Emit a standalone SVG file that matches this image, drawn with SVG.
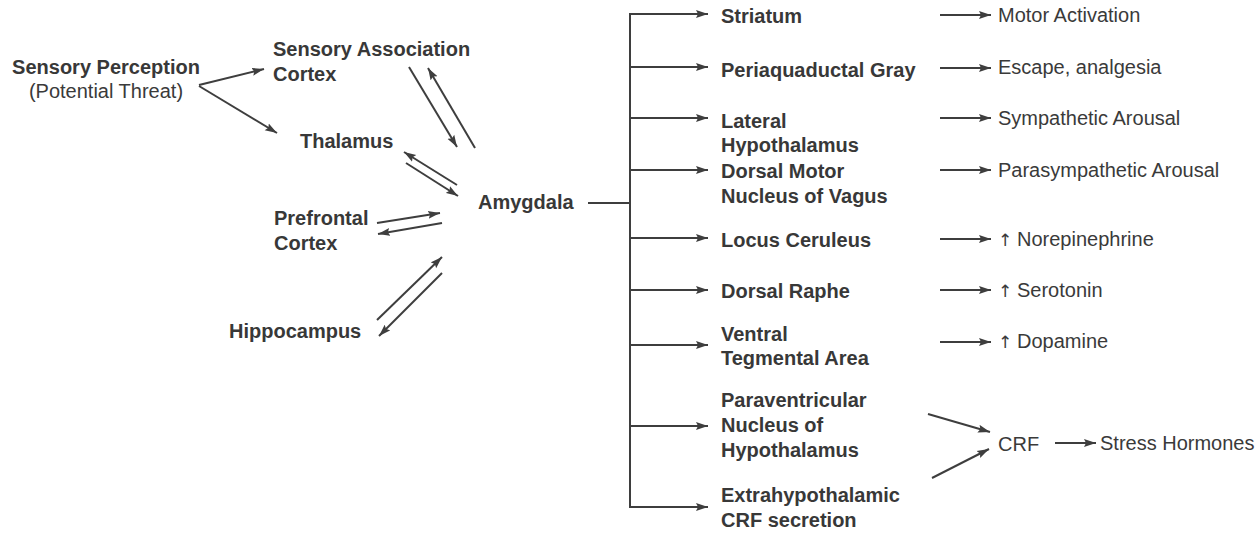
<svg xmlns="http://www.w3.org/2000/svg" width="1258" height="534" viewBox="0 0 1258 534">
  <style>
    .b { font-family: "Liberation Sans", Arial, sans-serif; font-weight: bold; font-size: 20px; fill: #383838; }
    .r { font-family: "Liberation Sans", Arial, sans-serif; font-size: 20px; fill: #3a3a3a; }
    .up { font-family: "DejaVu Sans", sans-serif; font-size: 17px; fill: #3a3a3a; }
    .c { text-anchor: middle; }
    .ln { stroke: #3e3e3e; stroke-width: 2; fill: none; }
    .ar { stroke: #3e3e3e; stroke-width: 2; fill: none; marker-end: url(#head); }
  </style>
  <defs>
    <marker id="head" markerUnits="userSpaceOnUse" markerWidth="13" markerHeight="9" refX="12" refY="4.5" orient="auto">
      <path d="M0,0.5 L12,4.5 L0,8.5 L2,4.5 z" fill="#3e3e3e"/>
    </marker>
  </defs>
  <rect width="1258" height="534" fill="#ffffff"/>

  <!-- left-hand inputs -->
  <g id="sensory-perception">
    <text class="b c" x="106" y="74">Sensory Perception</text>
    <text class="r c" x="106" y="98">(Potential Threat)</text>
  </g>
  <g id="sensory-association-cortex">
    <text class="b" x="273" y="56">Sensory Association</text>
    <text class="b" x="273" y="81">Cortex</text>
  </g>
  <g id="thalamus">
    <text class="b" x="300" y="148">Thalamus</text>
  </g>
  <g id="prefrontal-cortex">
    <text class="b" x="274" y="225">Prefrontal</text>
    <text class="b" x="274" y="250">Cortex</text>
  </g>
  <g id="hippocampus">
    <text class="b" x="229" y="338">Hippocampus</text>
  </g>
  <g id="amygdala">
    <text class="b" x="478" y="209">Amygdala</text>
  </g>

  <!-- amygdala targets -->
  <g id="striatum"><text class="b" x="721" y="23">Striatum</text></g>
  <g id="periaqueductal-gray"><text class="b" x="721" y="77">Periaquaductal Gray</text></g>
  <g id="lateral-hypothalamus">
    <text class="b" x="721" y="128">Lateral</text>
    <text class="b" x="721" y="152">Hypothalamus</text>
  </g>
  <g id="dorsal-motor-nucleus">
    <text class="b" x="721" y="178">Dorsal Motor</text>
    <text class="b" x="721" y="203">Nucleus of Vagus</text>
  </g>
  <g id="locus-ceruleus"><text class="b" x="721" y="247">Locus Ceruleus</text></g>
  <g id="dorsal-raphe"><text class="b" x="721" y="298">Dorsal Raphe</text></g>
  <g id="ventral-tegmental-area">
    <text class="b" x="721" y="341">Ventral</text>
    <text class="b" x="721" y="365">Tegmental Area</text>
  </g>
  <g id="paraventricular-nucleus">
    <text class="b" x="721" y="407">Paraventricular</text>
    <text class="b" x="721" y="432">Nucleus of</text>
    <text class="b" x="721" y="457">Hypothalamus</text>
  </g>
  <g id="extrahypothalamic-crf">
    <text class="b" x="721" y="502">Extrahypothalamic</text>
    <text class="b" x="721" y="527">CRF secretion</text>
  </g>

  <!-- outcomes -->
  <g id="motor-activation"><text class="r" x="998" y="22">Motor Activation</text></g>
  <g id="escape-analgesia"><text class="r" x="998" y="74">Escape, analgesia</text></g>
  <g id="sympathetic-arousal"><text class="r" x="998" y="125">Sympathetic Arousal</text></g>
  <g id="parasympathetic-arousal"><text class="r" x="998" y="177">Parasympathetic Arousal</text></g>
  <g id="norepinephrine"><text class="r" x="998" y="246"><tspan class="up">↑</tspan><tspan x="1017">Norepinephrine</tspan></text></g>
  <g id="serotonin"><text class="r" x="998" y="297"><tspan class="up">↑</tspan><tspan x="1017">Serotonin</tspan></text></g>
  <g id="dopamine"><text class="r" x="998" y="348"><tspan class="up">↑</tspan><tspan x="1017">Dopamine</tspan></text></g>
  <g id="crf"><text class="r" x="998" y="451">CRF</text></g>
  <g id="stress-hormones"><text class="r" x="1100" y="450">Stress Hormones</text></g>

  <!-- connectors -->
  <g id="connectors">
    <!-- sensory perception fan-out -->
    <line class="ar" x1="199" y1="85" x2="264" y2="69"/>
    <line class="ar" x1="199" y1="86" x2="277" y2="133"/>
    <!-- reciprocal links with amygdala -->
    <line class="ar" x1="409" y1="67" x2="457" y2="147"/>
    <line class="ar" x1="475" y1="148" x2="428" y2="68"/>
    <line class="ar" x1="457" y1="185" x2="404" y2="152"/>
    <line class="ar" x1="406" y1="163" x2="458" y2="196"/>
    <line class="ar" x1="377" y1="223" x2="440" y2="213"/>
    <line class="ar" x1="442" y1="223" x2="378" y2="234"/>
    <line class="ar" x1="377" y1="320" x2="442" y2="257"/>
    <line class="ar" x1="442" y1="273" x2="379" y2="336"/>
    <!-- amygdala output trunk -->
    <line class="ln" x1="588" y1="203" x2="630" y2="203"/>
    <line class="ln" x1="630" y1="13" x2="630" y2="508"/>
    <line class="ar" x1="630" y1="14" x2="708" y2="14"/>
    <line class="ar" x1="630" y1="67" x2="708" y2="67"/>
    <line class="ar" x1="630" y1="118" x2="708" y2="118"/>
    <line class="ar" x1="630" y1="170" x2="708" y2="170"/>
    <line class="ar" x1="630" y1="238" x2="708" y2="238"/>
    <line class="ar" x1="630" y1="290" x2="708" y2="290"/>
    <line class="ar" x1="630" y1="345" x2="708" y2="345"/>
    <line class="ar" x1="630" y1="426" x2="708" y2="426"/>
    <line class="ar" x1="630" y1="507" x2="708" y2="507"/>
    <!-- target to outcome -->
    <line class="ar" x1="940" y1="15" x2="991" y2="15"/>
    <line class="ar" x1="940" y1="68" x2="991" y2="68"/>
    <line class="ar" x1="940" y1="118" x2="991" y2="118"/>
    <line class="ar" x1="940" y1="170" x2="991" y2="170"/>
    <line class="ar" x1="940" y1="239" x2="991" y2="239"/>
    <line class="ar" x1="940" y1="290" x2="991" y2="290"/>
    <line class="ar" x1="940" y1="342" x2="991" y2="342"/>
    <!-- CRF convergence -->
    <line class="ar" x1="928" y1="414" x2="990" y2="432"/>
    <line class="ar" x1="932" y1="478" x2="989" y2="449"/>
    <line class="ar" x1="1055" y1="443" x2="1096" y2="443"/>
  </g>
</svg>
